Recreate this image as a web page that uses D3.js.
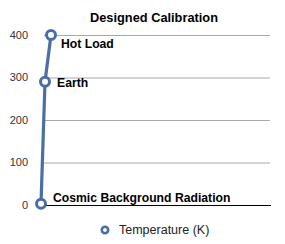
<!DOCTYPE html>
<html>
<head>
<meta charset="utf-8">
<script src="https://cdn.jsdelivr.net/npm/d3@7"></script>
<style>
  body { margin: 0; background: #fff; }
  text { font-family: "Liberation Sans", Arial, sans-serif; }
</style>
</head>
<body>
<div id="chart"></div>
<script>
// data
var names = ["Cosmic Background Radiation", "Earth", "Hot Load"];
var xValues = [0, 0.8, 2];
var temps = [2.7, 290, 400];
var yTicks = [0, 100, 200, 300, 400];
var seriesName = "Temperature (K)";

// label offsets from each point (dx, dy)
var labelOffsets = [[12, -2], [12, 5], [10, 13]];

var width = 285, height = 244;
var blue = "#4a6fa6";

var svg = d3.select("#chart").append("svg")
    .attr("width", width)
    .attr("height", height);

var x = d3.scaleLinear().domain([0, 45]).range([41, 266]);
var y = d3.scaleLinear().domain([0, 400]).range([205, 35]);

// gridlines
svg.append("g").selectAll("line")
    .data(yTicks.filter(function(d) { return d > 0; }))
    .enter().append("line")
    .attr("x1", 44).attr("x2", 270)
    .attr("y1", function(d) { return y(d) + 0.5; })
    .attr("y2", function(d) { return y(d) + 0.5; })
    .style("stroke", "#a8a8a8")
    .style("stroke-width", 1);

// baseline
svg.append("line")
    .attr("x1", 41).attr("x2", 271)
    .attr("y1", y(0) + 0.5).attr("y2", y(0) + 0.5)
    .style("stroke", "#000")
    .style("stroke-width", 1.2);

// y tick labels
svg.append("g").selectAll("text")
    .data(yTicks)
    .enter().append("text")
    .attr("x", 28)
    .attr("y", function(d) { return y(d); })
    .attr("dy", ".35em")
    .attr("text-anchor", "end")
    .style("font-size", "11px")
    .style("fill", "#333")
    .text(function(d) { return d; });

// title
svg.append("text")
    .attr("x", 154)
    .attr("y", 22)
    .attr("text-anchor", "middle")
    .style("font-size", "12.8px")
    .style("font-weight", "bold")
    .text("Designed Calibration");

var points = names.map(function(n, i) {
    return { name: n, x: xValues[i], t: temps[i], off: labelOffsets[i] };
});

// line
var line = d3.line()
    .x(function(d) { return x(d.x); })
    .y(function(d) { return y(d.t); });

svg.append("path")
    .datum(points)
    .attr("d", line)
    .style("fill", "none")
    .style("stroke", blue)
    .style("stroke-width", 3.2);

// markers
svg.append("g").selectAll("circle")
    .data(points)
    .enter().append("circle")
    .attr("cx", function(d) { return x(d.x); })
    .attr("cy", function(d) { return y(d.t); })
    .attr("r", 4.5)
    .style("fill", "#fff")
    .style("stroke", blue)
    .style("stroke-width", 3);

// point labels
svg.append("g").selectAll("text")
    .data(points)
    .enter().append("text")
    .attr("x", function(d) { return x(d.x) + d.off[0]; })
    .attr("y", function(d) { return y(d.t) + d.off[1]; })
    .style("font-size", "12.2px")
    .style("font-weight", "bold")
    .text(function(d) { return d.name; });

// legend
var legend = svg.append("g").attr("transform", "translate(105,230)");
legend.append("circle")
    .attr("r", 3.2)
    .style("fill", "#fff")
    .style("stroke", blue)
    .style("stroke-width", 2.6);
legend.append("text")
    .attr("x", 14)
    .attr("dy", ".35em")
    .style("font-size", "12.5px")
    .style("fill", "#222")
    .text(seriesName);
</script>
</body>
</html>
